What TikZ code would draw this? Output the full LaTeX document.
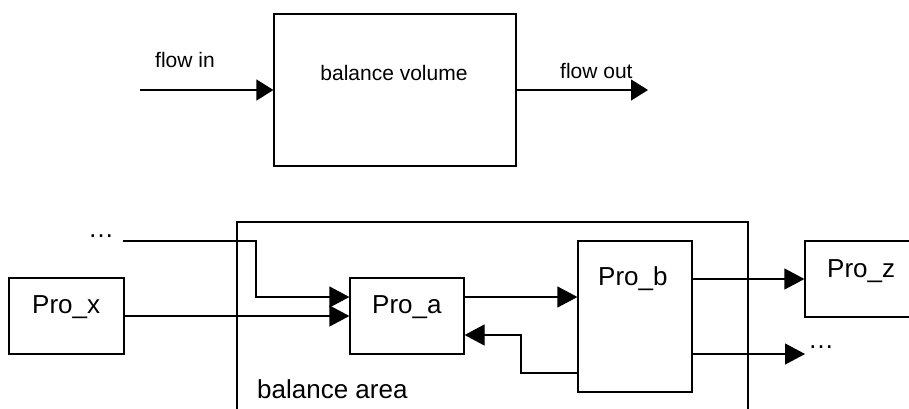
\documentclass[tikz,border=0pt]{standalone}
\usepackage{fontspec}
\setmainfont{Liberation Sans}
\usetikzlibrary{arrows.meta}
\begin{document}
\begin{tikzpicture}[x=1pt,y=-1pt,
  box/.style={draw,line width=1.2pt,rectangle,inner sep=0pt},
  arr/.style={line width=1.2pt,-{Triangle[length=20pt,width=21pt]}},
  arrt/.style={line width=1.2pt,-{Triangle[length=17pt,width=21pt]}},
  ln/.style={line width=1.2pt},
  small/.style={inner sep=0pt,anchor=base west,font=\fontsize{21}{25}\selectfont},
  big/.style={inner sep=0pt,anchor=base west,font=\fontsize{26}{30}\selectfont}]
\useasboundingbox (0,0) rectangle (909,408);
\clip (0,0) rectangle (909,408);
% top part
\node[box,minimum width=242pt,minimum height=152pt] (vol) at (395,90) {};
\node[small,anchor=base] (tvol) at (394,80) {balance volume};
\coordinate (in) at (140,90);
\coordinate (out) at (648,90);
\draw[arrt] (in) -- (vol.west);
\draw[arrt] (vol.east) -- (out);
\node[small] (tin) at (155,67) {flow in};
\node[small] (tout) at (560,78) {flow out};
% balance area
\coordinate (ba1) at (237,412);
\coordinate (ba2) at (237,222);
\coordinate (ba3) at (748,222);
\coordinate (ba4) at (748,412);
\draw[ln] (ba1) -- (ba2) -- (ba3) -- (ba4);
\node[big] (tba) at (257,398) {balance area};
% process boxes
\node[box,minimum width=115pt,minimum height=76pt] (px) at (66.5,316) {};
\node[box,minimum width=114pt,minimum height=76pt] (pa) at (407,316) {};
\node[box,minimum width=114pt,minimum height=151pt] (pb) at (635,316.5) {};
\node[box,minimum width=130pt,minimum height=76pt] (pz) at (870,279) {};
\node[big] (tpx) at (32,313) {Pro\_x};
\node[big] (tpa) at (372,313) {Pro\_a};
\node[big] (tpb) at (598,285) {Pro\_b};
\node[big] (tpz) at (827,277) {Pro\_z};
% connectors
\node[big] (dots1) at (88,237) {…};
\coordinate (d1) at (123,241);
\coordinate (k1) at (256,297);
\draw[arr] (d1) -| (k1) -- (k1 -| pa.west);
\draw[arr] (px.east) -- (pa.west);
\draw[arr] (pa.east |- k1) -- (pb.west |- k1);
\coordinate (k2) at (521,373);
\coordinate (k3) at (521,335);
\draw[arr] (pb.west |- k2) -| (k3) -- (k3 -| pa.east);
\draw[arr] (pb.east |- pz.west) -- (pz.west);
\coordinate (d2) at (805,354);
\draw[arr] (pb.east |- d2) -- (d2);
\node[big] (dots2) at (808,348) {…};
\end{tikzpicture}
\end{document}
